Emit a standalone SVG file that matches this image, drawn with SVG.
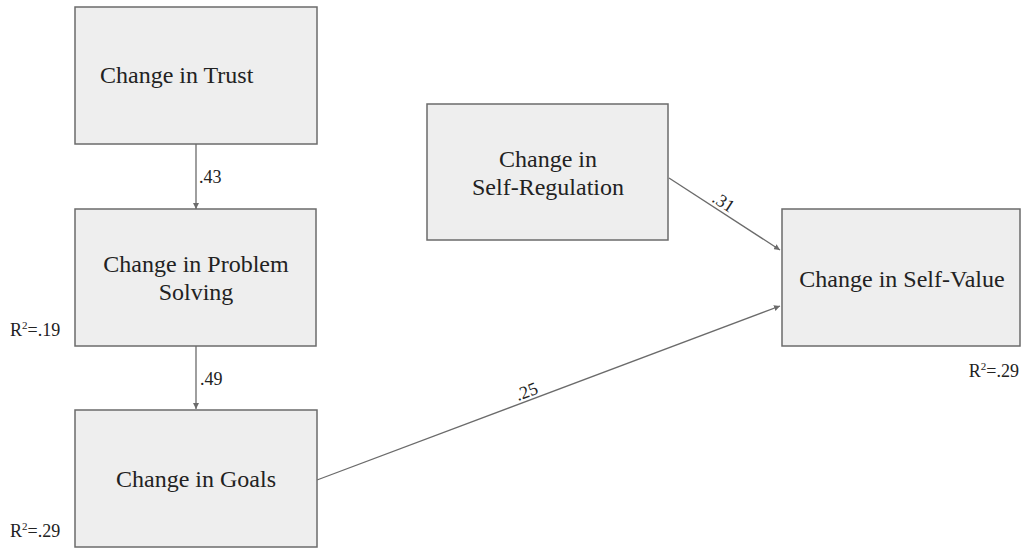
<svg xmlns="http://www.w3.org/2000/svg" width="1022" height="550" viewBox="0 0 1022 550">
  <defs>
    <style>
      .box { fill: #eeeeee; stroke: #6b6b6b; stroke-width: 1.5; }
      .lbl { font-family: "Liberation Serif", "Times New Roman", serif; font-size: 24px; fill: #222; }
      .mid { text-anchor: middle; }
      .coef { font-family: "Liberation Serif", "Times New Roman", serif; font-size: 18px; fill: #222; }
      .edge { stroke: #6b6b6b; stroke-width: 1.3; fill: none; marker-end: url(#arrow); }
    </style>
    <marker id="arrow" viewBox="0 0 10 10" refX="10" refY="5" markerWidth="6" markerHeight="6" markerUnits="userSpaceOnUse" orient="auto">
      <path d="M0,0 L10,5 L0,10 z" fill="#6b6b6b"/>
    </marker>
  </defs>

  <g id="connectors">
    <line class="edge" x1="196" y1="144" x2="196" y2="209"/>
    <line class="edge" x1="196" y1="346" x2="196" y2="409"/>
    <line class="edge" x1="669" y1="178" x2="780" y2="250"/>
    <line class="edge" x1="317" y1="480" x2="780" y2="306"/>
    <text class="coef" x="199" y="183">.43</text>
    <text class="coef" x="200" y="385">.49</text>
    <text class="coef" transform="translate(711,201) rotate(33)">.31</text>
    <text class="coef" transform="translate(518,401) rotate(-20.6)">.25</text>
  </g>

  <g id="trust">
    <rect class="box" x="75" y="7" width="242" height="137"/>
    <text class="lbl" x="100" y="83">Change in Trust</text>
  </g>

  <g id="problem-solving">
    <rect class="box" x="75" y="209" width="241" height="137"/>
    <text class="lbl mid" x="196" y="272">Change in Problem</text>
    <text class="lbl mid" x="196" y="300">Solving</text>
    <text class="coef" x="10" y="336">R<tspan dy="-7" font-size="11">2</tspan><tspan dy="7">=.19</tspan></text>
  </g>

  <g id="goals">
    <rect class="box" x="75" y="410" width="242" height="137"/>
    <text class="lbl mid" x="196" y="487">Change in Goals</text>
    <text class="coef" x="10" y="537">R<tspan dy="-7" font-size="11">2</tspan><tspan dy="7">=.29</tspan></text>
  </g>

  <g id="self-regulation">
    <rect class="box" x="427" y="104" width="241" height="136"/>
    <text class="lbl mid" x="548" y="167">Change in</text>
    <text class="lbl mid" x="548" y="195">Self-Regulation</text>
  </g>

  <g id="self-value">
    <rect class="box" x="782" y="209" width="238" height="137"/>
    <text class="lbl mid" x="902" y="287">Change in Self-Value</text>
    <text class="coef" x="1019" y="377" text-anchor="end">R<tspan dy="-7" font-size="11">2</tspan><tspan dy="7">=.29</tspan></text>
  </g>
</svg>
